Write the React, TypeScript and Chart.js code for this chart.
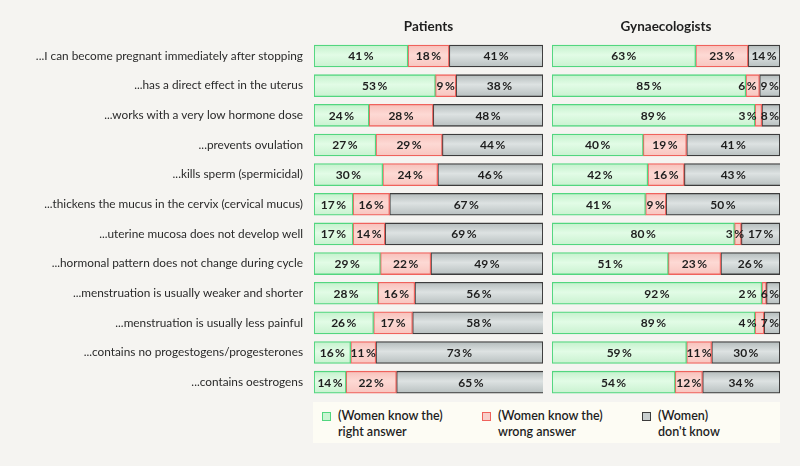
import React, { useEffect, useRef } from "react";
import { Chart, registerables } from "chart.js";

Chart.register(...registerables);

const statements = [
  "...I can become pregnant immediately after stopping",
  "...has a direct effect in the uterus",
  "...works with a very low hormone dose",
  "...prevents ovulation",
  "...kills sperm (spermicidal)",
  "...thickens the mucus in the cervix (cervical mucus)",
  "...uterine mucosa does not develop well",
  "...hormonal pattern does not change during cycle",
  "...menstruation is usually weaker and shorter",
  "...menstruation is usually less painful",
  "...contains no progestogens/progesterones",
  "...contains oestrogens",
];

const patientsRight = [41, 53, 24, 27, 30, 17, 17, 29, 28, 26, 16, 14];
const patientsWrong = [18, 9, 28, 29, 24, 16, 14, 22, 16, 17, 11, 22];
const patientsDontKnow = [41, 38, 48, 44, 46, 67, 69, 49, 56, 58, 73, 65];

const gynRight = [63, 85, 89, 40, 42, 41, 80, 51, 92, 89, 59, 54];
const gynWrong = [23, 6, 3, 19, 16, 9, 3, 23, 2, 4, 11, 12];
const gynDontKnow = [14, 9, 8, 41, 43, 50, 17, 26, 6, 7, 30, 34];

const seriesNames = [
  ["(Women know the)", "right answer"],
  ["(Women know the)", "wrong answer"],
  ["(Women)", "don't know"],
];

const FONT = "Lato, 'Open Sans', sans-serif";

const palettes = [
  { border: "#52d67f", top: "#c4f1cc", mid: "#e2fce6", bot: "#c9f2d0", legend: "#c9f5d2" },
  { border: "#ef625c", top: "#f7c0ba", mid: "#fdd9d4", bot: "#f8c5bf", legend: "#f8cfca" },
  { border: "#3c3c3c", top: "#b3bbbb", mid: "#dde2e2", bot: "#b8c0c0", legend: "#c9cfcf" },
];

function gradientFor(p: any) {
  return (ctx: any) => {
    const chart = ctx.chart;
    const y = chart.scales && chart.scales.y;
    if (!y || ctx.dataIndex === undefined || !isFinite(y.getPixelForValue(ctx.dataIndex))) return p.mid;
    const cy = y.getPixelForValue(ctx.dataIndex);
    const g = chart.ctx.createLinearGradient(0, cy - 11, 0, cy + 11);
    g.addColorStop(0, p.top);
    g.addColorStop(0.45, p.mid);
    g.addColorStop(1, p.bot);
    return g;
  };
}

const labelPlugin = {
  id: "segLabels",
  afterDatasetsDraw(chart: any, _args: any, opts: any) {
    const c = chart.ctx;
    c.save();
    const y = chart.scales.y;
    if (opts && opts.categories) {
      c.font = `11.8px ${FONT}`;
      c.fillStyle = "#2a2a2a";
      c.textAlign = "right";
      c.textBaseline = "middle";
      (chart.data.labels as string[]).forEach((lab, i) => {
        c.fillText(lab, chart.chartArea.left - 11, y.getPixelForValue(i));
      });
    }
    c.font = `bold 12px ${FONT}`;
    c.fillStyle = "#1e1e1e";
    c.textBaseline = "middle";
    c.textAlign = "left";
    const metas = chart.data.datasets.map((_: any, i: number) => chart.getDatasetMeta(i));
    const n = chart.data.labels.length;
    for (let r = 0; r < n; r++) {
      const items: any[] = [];
      metas.forEach((m: any, di: number) => {
        const el = m.data[r];
        const v = chart.data.datasets[di].data[r];
        const txt = `${v}\u2009%`;
        const w = c.measureText(txt).width;
        const left = Math.min(el.base, el.x);
        const right = Math.max(el.base, el.x);
        items.push({ txt, w, cx: (left + right) / 2, y: el.y });
      });
      let limit = chart.chartArea.right - 1;
      for (let i = items.length - 1; i >= 0; i--) {
        const it = items[i];
        let x = it.cx - it.w / 2;
        if (x + it.w > limit) x = limit - it.w;
        c.fillText(it.txt, x, it.y + 0.5);
        limit = x - 4;
      }
    }
    c.restore();
  },
};

function makeConfig(title: string, right: number[], wrong: number[], dk: number[], showLabels: boolean, padding: any) {
  const sets = [right, wrong, dk];
  return {
    type: "bar",
    data: {
      labels: statements,
      datasets: sets.map((d, i) => ({
        label: seriesNames[i].join(" "),
        data: d,
        backgroundColor: gradientFor(palettes[i]),
        borderColor: palettes[i].border,
        borderWidth: 1.3,
        borderSkipped: false,
        barThickness: 22,
      })),
    },
    options: {
      indexAxis: "y",
      responsive: false,
      animation: false,
      layout: { padding, autoPadding: false },
      plugins: {
        legend: { display: false },
        tooltip: { enabled: false },
        segLabels: { categories: showLabels },
        title: {
          display: true,
          text: title,
          fullSize: false,
          color: "#1e1e1e",
          font: { family: FONT, size: 13.5, weight: "bold" },
          padding: { top: 19, bottom: 6 },
        },
      },
      scales: {
        x: { stacked: true, min: 0, max: 100, display: false },
        y: { stacked: true, display: false },
      },
    },
    plugins: [labelPlugin],
  };
}

function BarPanel(props: any) {
  const ref = useRef<HTMLCanvasElement>(null);
  useEffect(() => {
    const chart = new Chart(ref.current as any, makeConfig(props.title, props.right, props.wrong, props.dk, props.showLabels, props.padding) as any);
    return () => chart.destroy();
  }, []);
  return (
    <canvas
      ref={ref}
      width={props.width}
      height={props.height}
      style={{ position: "absolute", left: props.left, top: 0, width: props.width, height: props.height }}
    />
  );
}

export default function App() {
  const legendX = [9, 169, 329];
  return (
    <div style={{ position: "fixed", left: 0, top: 0, width: 800, height: 466, background: "#f5f4f1", overflow: "hidden", fontFamily: FONT }}>
      <BarPanel title="Patients" right={patientsRight} wrong={patientsWrong} dk={patientsDontKnow} showLabels={true} left={0} width={546} height={398} padding={{ left: 314, right: 3, top: 0, bottom: 1 }} />
      <BarPanel title="Gynaecologists" right={gynRight} wrong={gynWrong} dk={gynDontKnow} showLabels={false} left={546} width={238} height={398} padding={{ left: 6, right: 4, top: 0, bottom: 1 }} />
      <div style={{ position: "absolute", left: 313, top: 402, width: 467, height: 41, background: "#fdfcf4" }}>
        {seriesNames.map((lines, i) => (
          <div key={i} style={{ position: "absolute", left: legendX[i], top: 6, display: "flex" }}>
            <div style={{ width: 9, height: 9, marginTop: 4, background: palettes[i].legend, border: `1px solid ${palettes[i].border}`, boxSizing: "border-box" }} />
            <div style={{ marginLeft: 7, fontSize: 12.5, lineHeight: "16px", color: "#1e1e1e", fontWeight: 600 }}>
              <div>{lines[0]}</div>
              <div>{lines[1]}</div>
            </div>
          </div>
        ))}
      </div>
    </div>
  );
}
